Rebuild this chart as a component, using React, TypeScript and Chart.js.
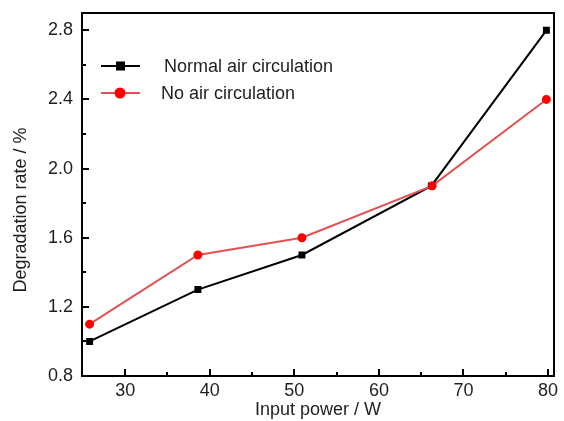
import React, { useEffect, useRef } from 'react';
import { Chart, registerables } from 'chart.js';

Chart.register(...registerables);

const normalPower = [25.8, 38.6, 50.9, 66.2, 79.8];
const normalRate = [1.0, 1.3, 1.5, 1.9, 2.8];
const noAirPower = [25.8, 38.6, 50.9, 66.3, 79.8];
const noAirRate = [1.1, 1.5, 1.6, 1.9, 2.4];
const seriesLabels = ['Normal air circulation', 'No air circulation'];
const xMajorTicks = [30, 40, 50, 60, 70, 80];
const xMinorTicks = [35, 45, 55, 65, 75];
const yMajorTicks = [0.8, 1.2, 1.6, 2.0, 2.4, 2.8];
const yMinorTicks = [1.0, 1.4, 1.8, 2.2, 2.6];
const yAxisTitle = 'Degradation rate / %';

const FONT = "'Liberation Sans', Arial, sans-serif";
const TEXT = '#1e1e1e';

const framePlugin = {
  id: 'frame',
  afterDraw(chart: any) {
    const { ctx, chartArea: a, scales } = chart;
    const xs = scales.x;
    const ys = scales.y;
    ctx.save();
    ctx.strokeStyle = '#000';
    ctx.lineWidth = 2;
    ctx.strokeRect(a.left, a.top, a.right - a.left, a.bottom - a.top);
    ctx.beginPath();
    const tick = (v: number, len: number, horiz: boolean) => {
      if (horiz) {
        const p = Math.round(xs.getPixelForValue(v));
        ctx.moveTo(p, a.bottom);
        ctx.lineTo(p, a.bottom - len);
      } else {
        const p = Math.round(ys.getPixelForValue(v));
        ctx.moveTo(a.left, p);
        ctx.lineTo(a.left + len, p);
      }
    };
    xMajorTicks.forEach((v) => tick(v, 7, true));
    xMinorTicks.forEach((v) => tick(v, 4, true));
    yMajorTicks.forEach((v) => tick(v, 7, false));
    yMinorTicks.forEach((v) => tick(v, 4, false));
    ctx.stroke();

    // y axis title
    ctx.save();
    ctx.translate(21.5, 210);
    ctx.rotate(-Math.PI / 2);
    ctx.fillStyle = TEXT;
    ctx.font = `18px ${FONT}`;
    ctx.textAlign = 'center';
    ctx.textBaseline = 'middle';
    ctx.fillText(yAxisTitle, 0, 0);
    ctx.restore();

    // legend
    const items = [
      { ds: chart.data.datasets[1], y: 66, tx: 164 },
      { ds: chart.data.datasets[0], y: 93, tx: 161 },
    ];
    items.forEach(({ ds, y, tx }) => {
      ctx.strokeStyle = ds.borderColor;
      ctx.lineWidth = 2;
      ctx.beginPath();
      ctx.moveTo(101, y);
      ctx.lineTo(140, y);
      ctx.stroke();
      ctx.fillStyle = ds.pointBackgroundColor;
      if (ds.pointStyle === 'rect') {
        ctx.fillRect(116, y - 4.5, 9, 9);
      } else {
        ctx.beginPath();
        ctx.arc(120, y, 5.5, 0, Math.PI * 2);
        ctx.fill();
      }
      ctx.fillStyle = TEXT;
      ctx.font = `18px ${FONT}`;
      ctx.textBaseline = 'middle';
      ctx.textAlign = 'left';
      ctx.fillText(ds.label, tx, y + 1);
    });
    ctx.restore();
  },
};

export default function App() {
  const ref = useRef<HTMLCanvasElement>(null);
  useEffect(() => {
    document.body.style.margin = '0';
    const canvas = ref.current!;
    const chart = new Chart(canvas, {
      type: 'line',
      data: {
        datasets: [
          {
            label: seriesLabels[1],
            data: noAirPower.map((x, i) => ({ x, y: noAirRate[i] })),
            borderColor: '#e05252',
            backgroundColor: '#ff0000',
            pointBackgroundColor: '#ff0000',
            pointBorderColor: '#ff0000',
            pointStyle: 'circle',
            pointRadius: 3.5,
            borderWidth: 2,
            order: 0,
          },
          {
            label: seriesLabels[0],
            data: normalPower.map((x, i) => ({ x, y: normalRate[i] })),
            borderColor: '#000000',
            backgroundColor: '#000000',
            pointBackgroundColor: '#000000',
            pointBorderColor: '#000000',
            pointStyle: 'rect',
            pointRadius: 3.5,
            borderWidth: 2,
            order: 1,
          },
        ] as any,
      },
      options: {
        animation: false,
        responsive: false,
        maintainAspectRatio: false,
        layout: { padding: { top: 13, right: 10, left: 0, bottom: 0 } },
        plugins: { legend: { display: false }, tooltip: { enabled: false } },
        scales: {
          x: {
            type: 'linear',
            position: 'bottom',
            min: 24.9,
            max: 80.7,
            grid: { display: false, drawTicks: false },
            border: { display: false },
            afterBuildTicks: (s: any) => {
              s.ticks = xMajorTicks.map((v) => ({ value: v }));
            },
            afterFit: (s: any) => {
              s.height = 45;
              s.paddingLeft = 0;
              s.paddingRight = 0;
            },
            ticks: {
              font: { family: FONT, size: 18 },
              color: TEXT,
              padding: 4,
              maxRotation: 0,
              callback: (v: any) => String(v),
            },
            title: {
              display: true,
              text: 'Input power / W',
              font: { family: FONT, size: 18 },
              color: TEXT,
              padding: { top: 0, bottom: 0 },
            },
          },
          y: {
            type: 'linear',
            min: 0.8,
            max: 2.9,
            grid: { display: false, drawTicks: false },
            border: { display: false },
            afterBuildTicks: (s: any) => {
              s.ticks = yMajorTicks.map((v) => ({ value: v }));
            },
            afterFit: (s: any) => {
              s.width = 82;
              s.paddingTop = 0;
              s.paddingBottom = 0;
            },
            ticks: {
              font: { family: FONT, size: 18 },
              color: TEXT,
              padding: 9,
              callback: (v: any) => Number(v).toFixed(1),
            },
            title: { display: false },
          },
        },
      } as any,
      plugins: [framePlugin],
    });
    return () => chart.destroy();
  }, []);
  return <canvas ref={ref} width={564} height={421} style={{ display: 'block' }} />;
}
